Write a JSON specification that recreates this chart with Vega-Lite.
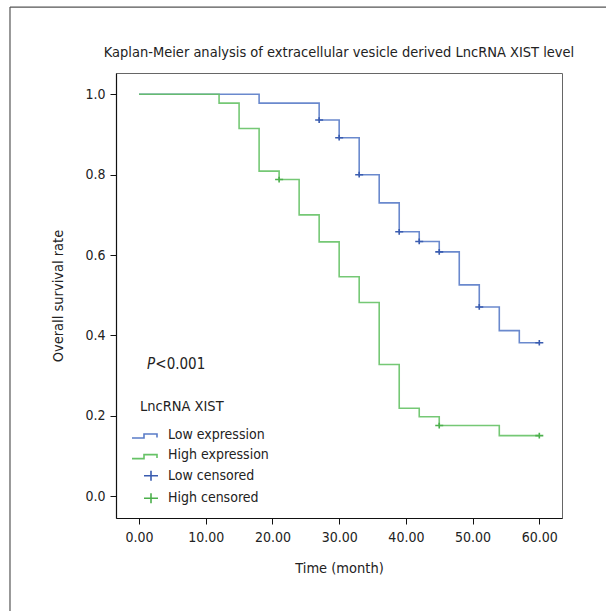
{
  "$schema": "https://vega.github.io/schema/vega-lite/v6.json",
  "autosize": {"type": "none"},
  "padding": {"left": 116, "top": 73, "right": 44, "bottom": 93},
  "width": 446,
  "height": 445,
  "background": "white",
  "config": {
    "font": "DejaVu Sans Condensed, sans-serif",
    "view": {"stroke": "#666666", "strokeWidth": 1},
    "axis": {
      "grid": false,
      "domainColor": "#111111",
      "domainWidth": 1.2,
      "tickColor": "#111111",
      "tickSize": 6,
      "labelFontSize": 14,
      "labelColor": "#222222",
      "titleFontSize": 14.5,
      "titleFontWeight": "normal",
      "titleColor": "#222222"
    },
    "title": {"fontSize": 14.5, "fontWeight": "normal", "color": "#222222"}
  },
  "title": {"text": "Kaplan-Meier analysis of extracellular vesicle derived LncRNA XIST level", "offset": 12, "dy": 66, "anchor": "middle"},
  "datasets": {
    "frame": [
      {"x": -19.34, "y": 1.217, "x2": 90, "y2": 1.217},
      {"x": -19.34, "y": 1.217, "x2": -19.34, "y2": -0.6}
    ],
    "curves": [
      {"grp": "Low expression", "t": 0, "s": 1.0},
      {"grp": "Low expression", "t": 18, "s": 0.978},
      {"grp": "Low expression", "t": 27, "s": 0.936},
      {"grp": "Low expression", "t": 30, "s": 0.892},
      {"grp": "Low expression", "t": 33, "s": 0.8},
      {"grp": "Low expression", "t": 36, "s": 0.73},
      {"grp": "Low expression", "t": 39, "s": 0.658},
      {"grp": "Low expression", "t": 42, "s": 0.634},
      {"grp": "Low expression", "t": 45, "s": 0.608},
      {"grp": "Low expression", "t": 48, "s": 0.526},
      {"grp": "Low expression", "t": 51, "s": 0.471},
      {"grp": "Low expression", "t": 54, "s": 0.412},
      {"grp": "Low expression", "t": 57, "s": 0.382},
      {"grp": "Low expression", "t": 60, "s": 0.382},
      {"grp": "High expression", "t": 0, "s": 1.0},
      {"grp": "High expression", "t": 12, "s": 0.978},
      {"grp": "High expression", "t": 15, "s": 0.915},
      {"grp": "High expression", "t": 18, "s": 0.809},
      {"grp": "High expression", "t": 21, "s": 0.788},
      {"grp": "High expression", "t": 24, "s": 0.7},
      {"grp": "High expression", "t": 27, "s": 0.633},
      {"grp": "High expression", "t": 30, "s": 0.546},
      {"grp": "High expression", "t": 33, "s": 0.482},
      {"grp": "High expression", "t": 36, "s": 0.328},
      {"grp": "High expression", "t": 39, "s": 0.219},
      {"grp": "High expression", "t": 42, "s": 0.198},
      {"grp": "High expression", "t": 45, "s": 0.176},
      {"grp": "High expression", "t": 54, "s": 0.151},
      {"grp": "High expression", "t": 60, "s": 0.151}
    ],
    "censored": [
      {"grp": "Low censored", "t": 27, "s": 0.936},
      {"grp": "Low censored", "t": 30, "s": 0.892},
      {"grp": "Low censored", "t": 33, "s": 0.8},
      {"grp": "Low censored", "t": 39, "s": 0.658},
      {"grp": "Low censored", "t": 42, "s": 0.634},
      {"grp": "Low censored", "t": 45, "s": 0.608},
      {"grp": "Low censored", "t": 51, "s": 0.471},
      {"grp": "Low censored", "t": 60, "s": 0.382},
      {"grp": "High censored", "t": 21, "s": 0.788},
      {"grp": "High censored", "t": 45, "s": 0.176},
      {"grp": "High censored", "t": 60, "s": 0.151}
    ],
    "annot": [
      {"t": 1.2, "s": 0.329, "p": "P", "rest": "<0.001", "t2": 2.45}
    ]
  },
  "layer": [
    {
      "data": {"name": "frame"},
      "mark": {"type": "rule", "stroke": "#555555", "strokeWidth": 1.2, "clip": false},
      "encoding": {
        "x": {"field": "x", "type": "quantitative"},
        "y": {"field": "y", "type": "quantitative"},
        "x2": {"field": "x2"},
        "y2": {"field": "y2"}
      }
    },
    {
      "data": {"name": "curves"},
      "mark": {"type": "line", "interpolate": "step-after", "strokeWidth": 1.6, "opacity": 0.9},
      "encoding": {
        "x": {
          "field": "t", "type": "quantitative",
          "scale": {"domain": [-3.45, 63.4], "nice": false, "zero": false},
          "axis": {"values": [0, 10, 20, 30, 40, 50, 60], "format": ".2f", "title": "Time (month)", "labelPadding": 6, "titlePadding": 17}
        },
        "y": {
          "field": "s", "type": "quantitative",
          "scale": {"domain": [-0.054, 1.053], "nice": false, "zero": false},
          "axis": {"values": [0, 0.2, 0.4, 0.6, 0.8, 1.0], "format": ".1f", "title": "Overall survival rate", "labelPadding": 5, "titlePadding": 19}
        },
        "stroke": {
          "field": "grp", "type": "nominal",
          "scale": {"domain": ["Low expression", "High expression"], "range": ["#5a7cc8", "#66c266"]},
          "legend": null
        },
        "detail": {"field": "grp"}
      }
    },
    {
      "data": {"name": "censored"},
      "mark": {"type": "point", "filled": false, "size": 130, "strokeWidth": 1.6, "opacity": 1},
      "encoding": {
        "x": {"field": "t", "type": "quantitative"},
        "y": {"field": "s", "type": "quantitative"},
        "color": {
          "field": "grp", "type": "nominal",
          "scale": {"domain": ["Low expression", "High expression", "Low censored", "High censored"], "range": ["#5a7cc8", "#66c266", "#3a5cb0", "#4cb04c"]},
          "legend": {
            "title": "LncRNA XIST",
            "orient": "none",
            "legendX": 24,
            "legendY": 327,
            "padding": 0,
            "symbolSize": 400,
            "symbolStrokeWidth": 1.6,
            "symbolFillColor": "transparent",
            "labelFontSize": 14,
            "labelColor": "#222222",
            "labelOffset": 6,
            "titleFontSize": 14.5,
            "titleFontWeight": "normal",
            "titleColor": "#222222",
            "titlePadding": 9,
            "rowPadding": 2.6
          }
        },
        "shape": {
          "field": "grp", "type": "nominal",
          "scale": {"domain": ["Low expression", "High expression", "Low censored", "High censored"], "range": ["M-1.9,0.35H-0.7V-0.05H0.6V0.3", "M-1.9,0.35H-0.7V-0.05H0.6V0.3", "M-0.7,0H0.7M0,-0.5V0.5", "M-0.7,0H0.7M0,-0.5V0.5"]}
        }
      }
    },
    {
      "data": {"name": "annot"},
      "mark": {"type": "text", "align": "left", "baseline": "middle", "fontSize": 15, "fontStyle": "italic", "color": "#222222"},
      "encoding": {
        "x": {"field": "t", "type": "quantitative"},
        "y": {"field": "s", "type": "quantitative"},
        "text": {"field": "p"}
      }
    },
    {
      "data": {"name": "annot"},
      "mark": {"type": "text", "align": "left", "baseline": "middle", "fontSize": 15, "color": "#222222"},
      "encoding": {
        "x": {"field": "t2", "type": "quantitative"},
        "y": {"field": "s", "type": "quantitative"},
        "text": {"field": "rest"}
      }
    }
  ]
}
